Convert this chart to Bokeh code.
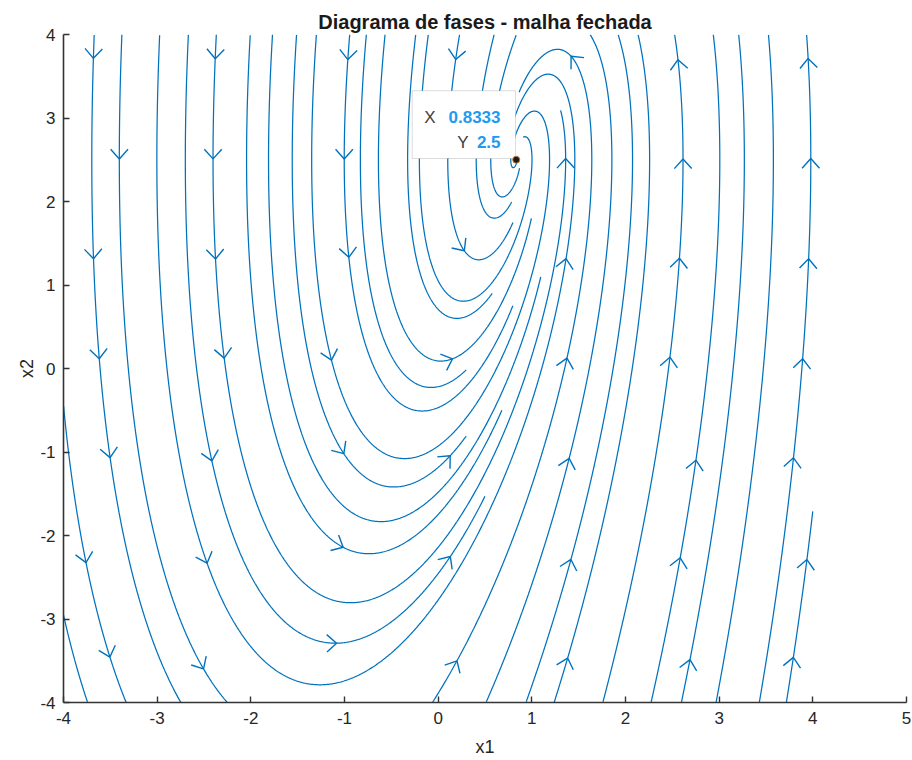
import math
import numpy as np
from bokeh.plotting import figure
from bokeh.models import Range1d, FixedTicker, Label, BoxAnnotation
from bokeh.embed import file_html
from bokeh.resources import INLINE

# ---------------- data ----------------
# closed-loop linear system  d/dt [x1, x2] = M @ ([x1, x2] - equilibrium)
SYSTEM_ROW1 = [0.0, -1.0]
SYSTEM_ROW2 = [9.0, -3.0]
EQUILIBRIUM_X = [0.8333]
EQUILIBRIUM_Y = [2.5]
FIELD_X_RANGE = [-4.0, 4.0]
FIELD_Y_RANGE = [-4.0, 4.0]
X_LIMITS = [-4, 5]
Y_LIMITS = [-4, 4]
X_TICKS = [-4, -3, -2, -1, 0, 1, 2, 3, 4, 5]
Y_TICKS = [-4, -3, -2, -1, 0, 1, 2, 3, 4]
TITLE = "Diagrama de fases - malha fechada"
X_LABEL = "x1"
Y_LABEL = "x2"
TIP_NAMES = ["X", "Y"]
TIP_VALUES = ["0.8333", "2.5"]

# ---------------- layout ----------------
W, H = 912, 760
FL, FR, FT, FB = 63, 906, 34, 702
SX = (FR - FL) / (X_LIMITS[1] - X_LIMITS[0])
SY = (FB - FT) / (Y_LIMITS[1] - Y_LIMITS[0])
BLUE = "#0072BD"

EX, EY = EQUILIBRIUM_X[0], EQUILIBRIUM_Y[0]
A00, A01 = SYSTEM_ROW1
A10, A11 = SYSTEM_ROW2
fx0, fx1 = FIELD_X_RANGE
fy0, fy1 = FIELD_Y_RANGE


def direction(x, y):
    dx, dy = x - EX, y - EY
    u = A00 * dx + A01 * dy
    v = A10 * dx + A11 * dy
    m = math.hypot(u, v)
    if m < 1e-9:
        return None
    return u / m, v / m


NS, NE = 20, 80
startgrid = [[False] * NS for _ in range(NS)]
endgrid = [[False] * NE for _ in range(NE)]


def cell(x, y, n):
    c = int((x - fx0) / (fx1 - fx0) * n)
    r = int((y - fy0) / (fy1 - fy0) * n)
    return min(max(r, 0), n - 1), min(max(c, 0), n - 1)


STEP = 0.01


def trace(xs, ys, sgn):
    pts = [(xs, ys)]
    cur = cell(xs, ys, NE)
    x, y = xs, ys
    for _ in range(8000):
        d = direction(x, y)
        if d is None:
            break
        xm, ym = x + sgn * 0.5 * STEP * d[0], y + sgn * 0.5 * STEP * d[1]
        d2 = direction(xm, ym)
        if d2 is None:
            break
        xn, yn = x + sgn * STEP * d2[0], y + sgn * STEP * d2[1]
        if xn < fx0 or xn > fx1 or yn < fy0 or yn > fy1:
            break
        ce = cell(xn, yn, NE)
        if ce != cur:
            if endgrid[ce[0]][ce[1]]:
                break
            endgrid[ce[0]][ce[1]] = True
            cur = ce
        rs, cs = cell(xn, yn, NS)
        startgrid[rs][cs] = True
        pts.append((xn, yn))
        x, y = xn, yn
    return pts


order = [(k * 137) % (NS * NS) for k in range(NS * NS)]
lines = []
for idx in order:
    r, c = divmod(idx, NS)
    if startgrid[r][c]:
        continue
    startgrid[r][c] = True
    xs = fx0 + (c + 0.5) * (fx1 - fx0) / NS
    ys = fy0 + (r + 0.5) * (fy1 - fy0) / NS
    er, ec = cell(xs, ys, NE)
    if endgrid[er][ec]:
        continue
    endgrid[er][ec] = True
    fwd = trace(xs, ys, 1)
    bwd = trace(xs, ys, -1)
    pts = bwd[::-1] + fwd[1:]
    if len(pts) > 3:
        lines.append(pts)

line_xs = [[q[0] for q in pts] for pts in lines]
line_ys = [[q[1] for q in pts] for pts in lines]

# ---------------- arrows on a coarse lattice (as streamslice does) ----------------
ARROW_DX = 1.235
ARROW_DY = 1.197
ARROW_X0 = fx0 + 0.45
ARROW_Y0 = fy1 - 0.29
ARM = 13.0
ANG = math.radians(42)

all_x, all_y, all_l, all_i = [], [], [], []
for li, pts in enumerate(lines):
    for ii in range(len(pts)):
        all_x.append(pts[ii][0])
        all_y.append(pts[ii][1])
        all_l.append(li)
        all_i.append(ii)
all_x = np.array(all_x)
all_y = np.array(all_y)

arr_xs, arr_ys = [], []
gx = ARROW_X0
while gx < fx1:
    gy = ARROW_Y0
    while gy > fy0:
        d = np.hypot((all_x - gx) * SX, (all_y - gy) * SY)
        k = int(np.argmin(d))
        if d[k] < 26:
            pts = lines[all_l[k]]
            i = all_i[k]
            i0, i1 = max(i - 2, 0), min(i + 2, len(pts) - 1)
            tx = (pts[i1][0] - pts[i0][0]) * SX
            ty = (pts[i1][1] - pts[i0][1]) * SY
            n = math.hypot(tx, ty)
            if n > 0:
                tx, ty = tx / n, ty / n
                tipx, tipy = pts[i]
                ax, ay = [], []
                for a in (ANG, -ANG):
                    bx = -tx * math.cos(a) + ty * math.sin(a)
                    by = -tx * math.sin(a) - ty * math.cos(a)
                    ax.append(tipx + ARM * bx / SX)
                    ay.append(tipy + ARM * by / SY)
                arr_xs.append([ax[0], tipx, ax[1]])
                arr_ys.append([ay[0], tipy, ay[1]])
        gy -= ARROW_DY
    gx += ARROW_DX

# ---------------- figure ----------------
p = figure(width=W, height=H,
           x_range=Range1d(X_LIMITS[0], X_LIMITS[1]),
           y_range=Range1d(Y_LIMITS[0], Y_LIMITS[1]),
           output_backend="svg", toolbar_location=None,
           min_border_left=FL, min_border_right=W - FR,
           min_border_top=FT, min_border_bottom=H - FB,
           title=TITLE)
p.background_fill_color = "white"
p.border_fill_color = "white"
p.outline_line_color = None
p.xgrid.grid_line_color = None
p.ygrid.grid_line_color = None

p.title.text_font = "Liberation Sans"
p.title.text_font_size = "20px"
p.title.text_font_style = "bold"
p.title.text_color = "#1a1a1a"
p.title.align = "center"
p.title.standoff = 4

p.xaxis.ticker = FixedTicker(ticks=X_TICKS)
p.yaxis.ticker = FixedTicker(ticks=Y_TICKS)
p.xaxis.major_label_overrides = {t: str(t) for t in X_TICKS}
p.yaxis.major_label_overrides = {t: str(t) for t in Y_TICKS}
p.xaxis.axis_label = X_LABEL
p.yaxis.axis_label = Y_LABEL
for ax in (p.xaxis[0], p.yaxis[0]):
    ax.axis_line_color = "#333333"
    ax.axis_line_width = 1.6
    ax.major_tick_line_color = "#333333"
    ax.major_tick_line_width = 1.4
    ax.major_tick_in = 6
    ax.major_tick_out = 0
    ax.minor_tick_in = 0
    ax.minor_tick_out = 0
    ax.major_label_text_font = "Liberation Sans"
    ax.major_label_text_font_size = "17px"
    ax.major_label_text_color = "#262626"
    ax.axis_label_text_font = "Liberation Sans"
    ax.axis_label_text_font_size = "18px"
    ax.axis_label_text_font_style = "normal"
    ax.axis_label_text_color = "#262626"
p.xaxis.major_label_standoff = 9
p.yaxis.major_label_standoff = 8
p.xaxis.axis_label_standoff = 10
p.yaxis.axis_label_standoff = 0

p.multi_line(xs=line_xs, ys=line_ys, line_color=BLUE, line_width=1.25)
p.multi_line(xs=arr_xs, ys=arr_ys, line_color=BLUE, line_width=1.4)

# ---------------- data tip ----------------
box = BoxAnnotation(left=EX - 104 / SX, right=EX - 0.7 / SX,
                    bottom=EY + 1.25 / SY, top=EY + 69 / SY,
                    fill_color="white", fill_alpha=1.0,
                    line_color="#8a8a8a", line_width=1)
p.add_layout(box)
rows_dy = [42.5, 17.5]
name_dx = [-80.7, -47.7]
for k in range(2):
    p.add_layout(Label(x=EX, y=EY, x_offset=name_dx[k], y_offset=rows_dy[k],
                       text=TIP_NAMES[k], text_align="right",
                       text_baseline="alphabetic",
                       text_font="Liberation Sans", text_font_size="17px",
                       text_color="#404040"))
    p.add_layout(Label(x=EX, y=EY, x_offset=-15.7, y_offset=rows_dy[k],
                       text=TIP_VALUES[k], text_align="right",
                       text_baseline="alphabetic",
                       text_font="Liberation Sans", text_font_size="17px",
                       text_font_style="bold", text_color="#1E9BF0"))
dot = p.scatter(x=EQUILIBRIUM_X, y=EQUILIBRIUM_Y, size=7,
                fill_color="#1a1a1a", line_color="#c87a2a", line_width=1)
dot.level = "overlay"

open("out.html", "w").write(file_html(p, INLINE))
